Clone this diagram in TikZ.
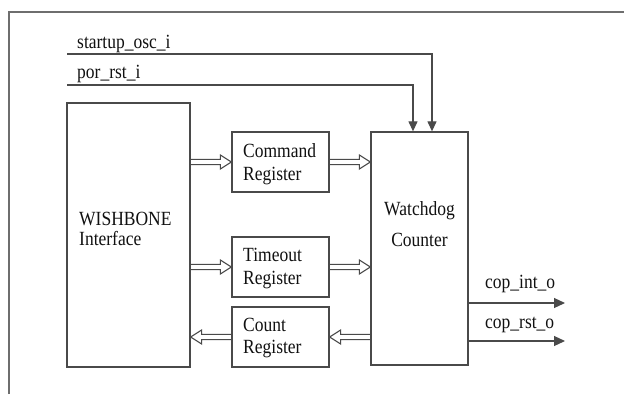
\documentclass[tikz,border=0pt]{standalone}
\usepackage{fontspec}
\setmainfont{Liberation Serif}
\usetikzlibrary{arrows.meta,calc}
\definecolor{edge}{HTML}{4A4A4A}
\definecolor{framec}{HTML}{6E6E6E}
\definecolor{ink}{HTML}{111111}
\newcommand{\tx}[1]{\scalebox{1}[1.15]{#1}}
\tikzset{
  block/.style={draw=edge, line width=1.3pt, fill=white},
  lbl/.style={inner sep=0pt, anchor=base west, text=ink, font=\fontsize{17.5}{20}\selectfont},
  sig/.style={draw=edge, line width=1.2pt},
  sigin/.style={sig, -{Triangle[length=10pt,width=9pt]}},
  sigout/.style={sig, -{Triangle[length=11pt,width=10pt]}},
  hollow/.style={draw=edge, line width=1.1pt, line join=miter,
    to path={let \p1=(\tikztostart), \p2=(\tikztotarget), \n1={sign(\x2-\x1)} in
      (\x1,\y1+2.6pt) -- (\x2-\n1*11pt,\y1+2.6pt) -- (\x2-\n1*11pt,\y1+7pt)
      -- (\x2,\y1) -- (\x2-\n1*11pt,\y1-7pt) -- (\x2-\n1*11pt,\y1-2.6pt)
      -- (\x1,\y1-2.6pt)}}
}
\begin{document}
\begin{tikzpicture}[x=1pt,y=-1pt]
\useasboundingbox (0,0) rectangle (624,394);
% outer frame (open towards the right and bottom)
\draw[framec, line width=1.3pt] (9,394) -- (9,12) -- (624,12);

% blocks
\node[block, minimum width=123pt, minimum height=264pt] (wb)  at (128.5,235) {};
\node[block, minimum width=97pt,  minimum height=60pt]  (cmd) at (280.5,162) {};
\node[block, minimum width=97pt,  minimum height=60pt]  (tmo) at (280.5,267) {};
\node[block, minimum width=97pt,  minimum height=60pt]  (cnt) at (280.5,337) {};
\node[block, minimum width=97pt,  minimum height=233pt] (wd)  at (419.5,248.5) {};

% block labels
\node[lbl] (wbA) at (79,225) {\tx{WISHBONE}};
\node[lbl] (wbB) at (79,245) {\tx{Interface}};
\node[lbl] (cmdA) at (243,157) {\tx{Command}};
\node[lbl] (cmdB) at (243,180) {\tx{Register}};
\node[lbl] (tmoA) at (243,261) {\tx{Timeout}};
\node[lbl] (tmoB) at (243,284) {\tx{Register}};
\node[lbl] (cntA) at (243,331) {\tx{Count}};
\node[lbl] (cntB) at (243,353) {\tx{Register}};
\node[lbl, anchor=base] (wdA) at (419.5,215) {\tx{Watchdog}};
\node[lbl, anchor=base] (wdB) at (419.5,246) {\tx{Counter}};

% bus transfers
\draw[hollow] (wb.east |- cmd) to (cmd.west);
\draw[hollow] (cmd.east) to (wd.west |- cmd);
\draw[hollow] (wb.east |- tmo) to (tmo.west);
\draw[hollow] (tmo.east) to (wd.west |- tmo);
\draw[hollow] (wd.west |- cnt) to (cnt.east);
\draw[hollow] (cnt.west) to (wb.east |- cnt);

% input signals
\coordinate (osc) at (67,54);
\coordinate (por) at (67,85);
\node[lbl] (oscL) at (77,48) {\tx{startup\_osc\_i}};
\node[lbl] (porL) at (77,78) {\tx{por\_rst\_i}};
\draw[sigin] (osc) -| ([xshift=12.5pt]wd.north);
\draw[sigin] (por) -| ([xshift=-6.5pt]wd.north);

% output signals
\coordinate (intE) at (565,303);
\coordinate (rstE) at (565,341);
\draw[sigout] (wd.east |- intE) -- (intE);
\draw[sigout] (wd.east |- rstE) -- (rstE);
\node[lbl] (intL) at (485,288) {\tx{cop\_int\_o}};
\node[lbl] (rstL) at (485,328) {\tx{cop\_rst\_o}};
\end{tikzpicture}
\end{document}
